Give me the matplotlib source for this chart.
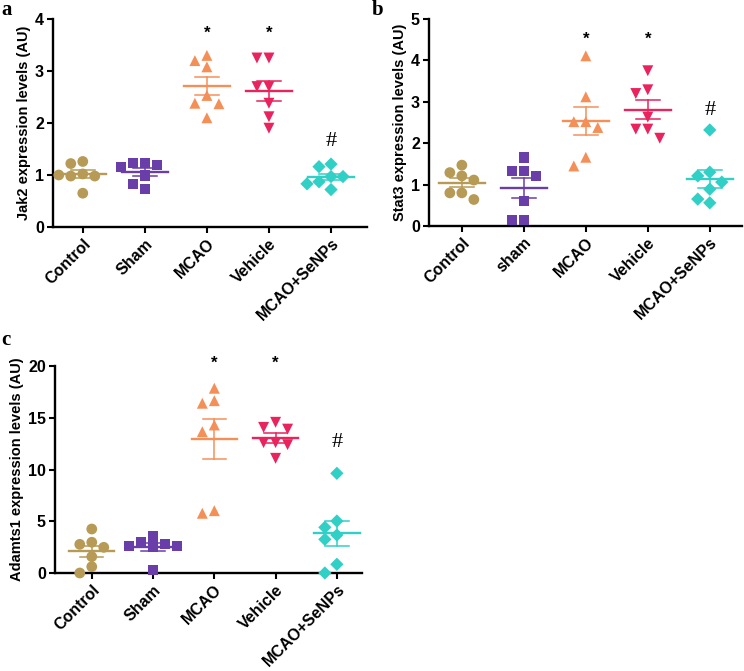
import numpy as np
import matplotlib.pyplot as plt

plt.rcParams['font.family'] = 'sans-serif'
plt.rcParams['font.sans-serif'] = ['Liberation Sans', 'DejaVu Sans']

#groups
groups_a = ['Control', 'Sham', 'MCAO', 'Vehicle', 'MCAO+SeNPs']
groups_b = ['Control', 'sham', 'MCAO', 'Vehicle', 'MCAO+SeNPs']
groups_c = ['Control', 'Sham', 'MCAO', 'Vehicle', 'MCAO+SeNPs']

#jak2 (panel a)
jak2_control = [1.26, 1.22, 1.02, 0.98, 0.98, 1.00, 0.65]
jak2_sham = [1.23, 1.23, 1.19, 1.15, 0.99, 0.83, 0.73]
jak2_mcao = [3.30, 3.08, 3.20, 2.53, 2.38, 2.37, 2.10]
jak2_vehicle = [3.25, 3.25, 2.70, 2.70, 2.38, 2.12, 1.90]
jak2_senps = [1.21, 1.16, 0.97, 0.97, 0.87, 0.83, 0.72]

#stat3 (panel b)
stat3_control = [1.47, 1.29, 1.21, 1.11, 0.80, 0.80, 0.64]
stat3_sham = [1.66, 1.33, 1.33, 1.21, 0.60, 0.14, 0.14]
stat3_mcao = [4.11, 3.12, 2.52, 2.52, 2.38, 1.66, 1.45]
stat3_vehicle = [3.75, 3.29, 3.20, 2.63, 2.34, 2.34, 2.12]
stat3_senps = [2.32, 1.30, 1.21, 1.06, 0.89, 0.65, 0.56]

#adamts1 (panel c)
adamts1_control = [4.25, 2.97, 2.77, 2.48, 1.58, 0.61, 0.00]
adamts1_sham = [3.50, 3.00, 2.80, 2.60, 2.60, 2.50, 0.30]
adamts1_mcao = [17.85, 16.65, 16.40, 14.30, 13.65, 6.02, 5.77]
adamts1_vehicle = [14.56, 14.07, 13.90, 12.60, 12.60, 12.40, 11.08]
adamts1_senps = [9.63, 5.02, 4.41, 3.67, 3.25, 0.84, 0.00]

colors = ['#b69a55', '#6a3ea8', '#f58f58', '#e8235e', '#31d0c6']
markers = ['o', 's', '^', 'v', 'D']
msizes = [60, 58, 62, 62, 46]

W, H = 744, 671
fig = plt.figure(figsize=(W/100, H/100), dpi=100)


def swarm(vals, px_y, px_x, step=12, diam=10):
    #simple beeswarm: push points sideways when they overlap
    placed = []
    offs = []
    for v in vals:
        cands = [0]
        for k in range(1, 6):
            cands += [-k, k]
        for c in cands:
            ok = True
            for (pv, pc) in placed:
                dx = (c - pc) * step
                dy = (v - pv) * px_y
                if (dx*dx + dy*dy) ** 0.5 < diam:
                    ok = False
                    break
            if ok:
                break
        placed.append((v, c))
        offs.append(c * step / px_x)
    return offs


def panel(rect, data, labels, ymax, yticks, ylabel, xlim, star_y, hash_y, half=0.37, cap=0.19):
    ax = fig.add_axes(rect)
    ax.set_xlim(*xlim)
    ax.set_ylim(0, ymax)
    px_y = rect[3] * H / ymax
    px_x = rect[2] * W / (xlim[1] - xlim[0])
    for i, vals in enumerate(data):
        vals = np.array(vals)
        offs = swarm(vals, px_y, px_x)
        ax.scatter(i + np.array(offs), vals, s=msizes[i], marker=markers[i],
                   color=colors[i], edgecolors='none', zorder=3, clip_on=False)
        m = vals.mean()
        sem = vals.std(ddof=1) / np.sqrt(len(vals))
        ax.plot([i - half, i + half], [m, m], color=colors[i], lw=1.7, zorder=4)
        ax.plot([i, i], [m - sem, m + sem], color=colors[i], lw=1.1, zorder=4)
        ax.plot([i - cap, i + cap], [m + sem, m + sem], color=colors[i], lw=1.1, zorder=4)
        ax.plot([i - cap, i + cap], [m - sem, m - sem], color=colors[i], lw=1.1, zorder=4)
    for i in [2, 3]:
        ax.text(i, star_y, '*', ha='center', va='center', fontsize=12, fontweight='bold',
                clip_on=False)
    ax.text(4, hash_y, '#', ha='center', va='center', fontsize=16,
            family=['Liberation Serif', 'DejaVu Serif'])
    ax.spines['top'].set_visible(False)
    ax.spines['right'].set_visible(False)
    ax.spines['left'].set_linewidth(1.7)
    ax.spines['bottom'].set_linewidth(1.7)
    ax.set_yticks(yticks)
    ax.set_yticklabels([str(t) for t in yticks], fontsize=11.5, fontweight='bold')
    ax.set_xticks(range(len(labels)))
    ax.set_xticklabels(labels, rotation=45, ha='right', rotation_mode='anchor',
                       fontsize=11.5, fontweight='bold')
    ax.tick_params(axis='both', width=1.5, length=4.5, direction='out', pad=2)
    ax.set_ylabel(ylabel, fontsize=10.5, fontweight='bold', labelpad=3)
    return ax


panel([53/W, 1 - 227/H, 314/W, 208/H],
      [jak2_control, jak2_sham, jak2_mcao, jak2_vehicle, jak2_senps],
      groups_a, 4, [0, 1, 2, 3, 4], 'Jak2 expression levels (AU)',
      (-0.48, 4.58), 3.72, 1.65)

panel([429/W, 1 - 226/H, 313/W, 207/H],
      [stat3_control, stat3_sham, stat3_mcao, stat3_vehicle, stat3_senps],
      groups_b, 5, [0, 1, 2, 3, 4, 5], 'Stat3 expression levels (AU)',
      (-0.53, 4.52), 4.5, 2.8)

panel([55/W, 1 - 573/H, 307/W, 207/H],
      [adamts1_control, adamts1_sham, adamts1_mcao, adamts1_vehicle, adamts1_senps],
      groups_c, 20, [0, 5, 10, 15, 20], 'Adamts1 expression levels (AU)',
      (-0.6, 4.41), 20.3, 12.6)

for lab, x, y in [('a', 1, 10), ('b', 372, 10), ('c', 1, 340)]:
    fig.text(x/W, 1 - y/H, lab, fontsize=15, fontweight='bold', va='center', ha='left',
             family=['Liberation Serif', 'DejaVu Serif'])

fig.savefig('out.png', dpi=100)
